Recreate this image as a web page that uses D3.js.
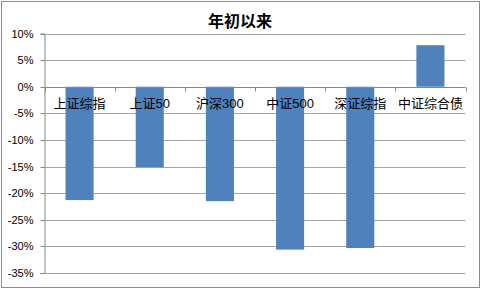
<!DOCTYPE html>
<html>
<head>
<meta charset="utf-8">
<script src="https://cdn.jsdelivr.net/npm/d3@7"></script>
<style>
  body { margin: 0; background: #fff; }
  svg { display: block; }
</style>
</head>
<body>
<svg id="chart"></svg>
<script>
// chart data
var categories = ['上证综指', '上证50', '沪深300', '中证500', '深证综指', '中证综合债'];
var values = [-21.3, -15.1, -21.5, -30.6, -30.3, 7.8];
var yTicks = [10, 5, 0, -5, -10, -15, -20, -25, -30, -35];
var title = '年初以来';

var width = 481;
var height = 289;
var margin = { top: 33.5, right: 16, bottom: 16, left: 44.5 };

var svg = d3.select('#chart')
    .attr('width', width)
    .attr('height', height);

// outer border
svg.append('rect')
    .attr('x', 1.5).attr('y', 1.5)
    .attr('width', width - 3).attr('height', height - 3)
    .attr('fill', '#fff')
    .attr('stroke', '#8c8c8c');

var x = d3.scaleBand()
    .domain(categories)
    .range([margin.left, 465.5])
    .paddingInner(0.6)
    .paddingOuter(0.3);

var y = d3.scaleLinear()
    .domain([-35, 10])
    .range([273, margin.top]);

// gridlines
svg.append('g')
    .selectAll('line')
    .data(yTicks)
    .enter().append('line')
    .attr('x1', margin.left)
    .attr('x2', 465.5)
    .attr('y1', function(d) { return Math.round(y(d)) + 0.5; })
    .attr('y2', function(d) { return Math.round(y(d)) + 0.5; })
    .attr('stroke', '#a6a6a6');

// bars
svg.append('g')
    .selectAll('rect')
    .data(values)
    .enter().append('rect')
    .attr('x', function(d, i) { return x(categories[i]); })
    .attr('width', x.bandwidth())
    .attr('y', function(d) { return y(Math.max(0, d)); })
    .attr('height', function(d) { return Math.abs(y(d) - y(0)); })
    .attr('fill', '#4f81bd');

// y axis
var yAxis = d3.axisLeft(y)
    .tickValues(yTicks)
    .tickSize(4)
    .tickFormat(function(d) { return d + '%'; });

var gy = svg.append('g')
    .attr('transform', 'translate(' + margin.left + ',0)')
    .call(yAxis);
gy.select('.domain').attr('stroke', '#868686');
gy.selectAll('.tick line').attr('stroke', '#868686');
gy.selectAll('.tick')
    .attr('transform', function(d) { return 'translate(0,' + (Math.round(y(d)) + 0.5) + ')'; });
gy.selectAll('text')
    .attr('x', -11)
    .attr('fill', '#000')
    .style('font-family', '"Liberation Sans", Arial, sans-serif')
    .style('font-size', '11px');

// zero line with category ticks
var zeroY = Math.round(y(0)) + 0.5;
var step = x.step();
var bounds = d3.range(categories.length + 1).map(function(i) { return margin.left + i * (465.5 - margin.left) / categories.length; });

svg.append('line')
    .attr('x1', margin.left).attr('x2', 465.5)
    .attr('y1', zeroY).attr('y2', zeroY)
    .attr('stroke', '#868686');

svg.append('g')
    .selectAll('line')
    .data(bounds)
    .enter().append('line')
    .attr('x1', function(d) { return Math.round(d) + 0.5; })
    .attr('x2', function(d) { return Math.round(d) + 0.5; })
    .attr('y1', zeroY).attr('y2', zeroY + 4)
    .attr('stroke', '#868686');

// category labels
svg.append('g')
    .selectAll('text')
    .data(categories)
    .enter().append('text')
    .attr('x', function(d) { return x(d) + x.bandwidth() / 2; })
    .attr('y', 108)
    .attr('text-anchor', 'middle')
    .style('font-family', '"Liberation Sans", "Noto Sans CJK SC", sans-serif')
    .style('font-size', '13px')
    .attr('fill', '#000')
    .text(function(d) { return d; });

// title
svg.append('text')
    .attr('x', 240)
    .attr('y', 27)
    .attr('text-anchor', 'middle')
    .style('font-family', '"Noto Sans CJK SC", sans-serif')
    .style('font-size', '16px')
    .style('font-weight', 'bold')
    .attr('fill', '#000')
    .text(title);
</script>
</body>
</html>
